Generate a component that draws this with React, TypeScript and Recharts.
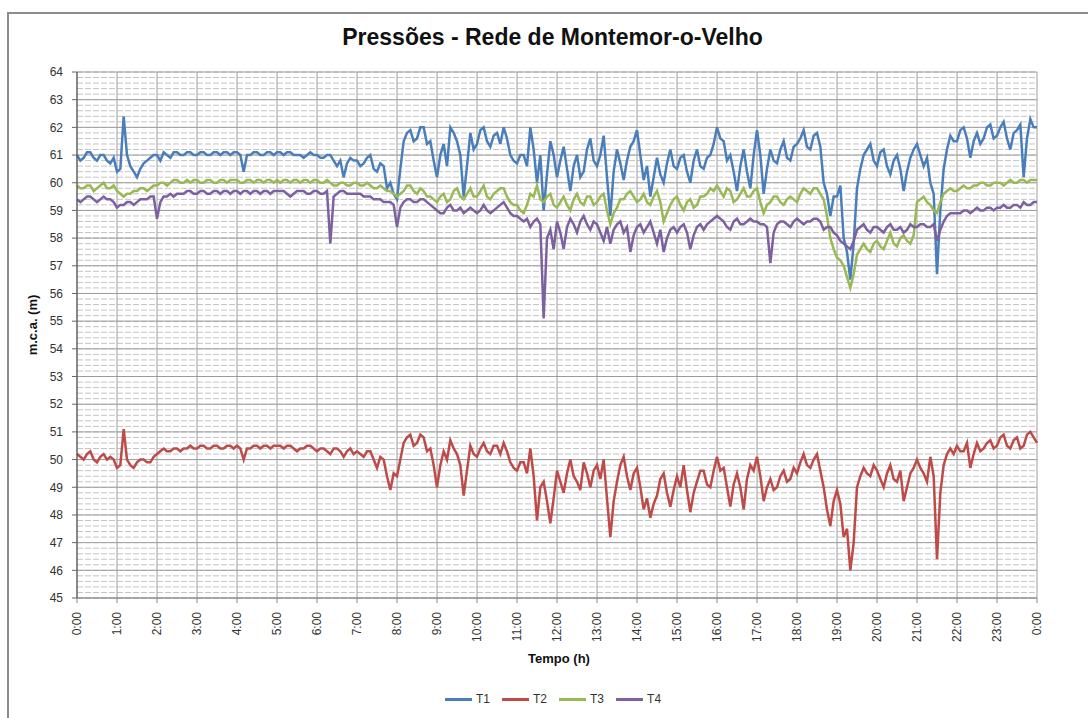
import { CartesianGrid, Line, LineChart, XAxis, YAxis } from "recharts";

const FONT = '"Liberation Sans", Arial, sans-serif';

// one reading every 5 minutes, 0:00 -> 24:00 (12 per hour)
const tickLabels = [
  "0:00", "1:00", "2:00", "3:00", "4:00", "5:00", "6:00", "7:00", "8:00", "9:00", "10:00", "11:00",
  "12:00", "13:00", "14:00", "15:00", "16:00", "17:00", "18:00", "19:00", "20:00", "21:00", "22:00", "23:00", "0:00",
];
const yTicks = [45, 46, 47, 48, 49, 50, 51, 52, 53, 54, 55, 56, 57, 58, 59, 60, 61, 62, 63, 64];

const t1 = [
  61.0, 60.8, 60.9, 61.1, 61.1, 60.9, 60.8, 61.0, 61.0, 60.8, 60.7, 60.9,
  60.4, 60.5, 62.4, 61.0, 60.6, 60.4, 60.2, 60.5, 60.7, 60.8, 60.9, 61.0,
  61.0, 60.8, 61.1, 61.0, 60.9, 61.1, 61.1, 61.0, 61.0, 61.1, 61.1, 61.0,
  61.0, 61.1, 61.1, 61.0, 61.0, 61.1, 61.1, 61.0, 61.1, 61.1, 61.0, 61.1,
  61.1, 61.0, 60.4, 61.0, 61.0, 61.1, 61.1, 61.0, 61.0, 61.1, 61.1, 61.0,
  61.1, 61.1, 61.0, 61.1, 61.1, 61.0, 61.0, 61.0, 60.9, 61.0, 61.1, 61.0,
  61.0, 60.9, 60.9, 61.0, 61.0, 60.8, 60.6, 60.8, 60.2, 60.7, 60.9, 60.8,
  60.8, 60.6, 60.7, 60.9, 61.0, 60.5, 60.4, 60.7, 60.6, 59.8, 60.0, 59.6,
  59.4, 60.5, 61.5, 61.8, 61.9, 61.5, 61.6, 62.0, 62.0, 61.4, 61.5, 60.8,
  60.2, 61.0, 61.4, 60.6, 62.0, 61.8, 61.5, 61.0, 59.5, 60.6, 61.8, 61.2,
  61.4, 61.9, 62.0, 61.5, 61.3, 61.7, 61.8, 61.4, 62.0, 61.6, 61.0, 60.8,
  60.7, 61.0, 61.0, 60.6, 62.0, 61.2, 60.0, 61.0, 59.0, 60.3, 61.5, 61.0,
  60.2, 60.8, 61.3, 60.5, 59.7, 60.6, 61.0, 60.2, 60.4, 61.2, 61.6, 60.8,
  60.6, 61.0, 61.7, 60.2, 58.8, 60.4, 61.2, 60.7, 60.1, 60.8, 61.3, 61.5,
  61.9, 61.0, 60.1, 60.6, 59.5, 60.2, 60.9, 60.3, 60.0, 60.7, 61.2, 60.6,
  60.5, 60.9, 61.0, 60.4, 60.0, 60.8, 61.2, 60.6, 60.5, 60.9, 61.0, 61.4,
  62.0, 61.6, 61.5, 60.8, 61.0, 60.4, 59.7, 60.6, 61.2, 60.4, 59.8, 61.0,
  61.9, 61.0, 59.6, 60.5, 61.2, 60.8, 60.7, 61.2, 61.5, 60.9, 60.8, 61.3,
  61.4, 61.6, 61.9, 61.3, 61.2, 61.7, 61.8, 61.3, 60.0, 59.6, 58.8, 59.5,
  59.5, 59.9, 58.0, 57.5, 56.5, 57.8, 59.8, 60.5, 61.0, 61.2, 61.4, 60.8,
  60.6, 61.1, 61.2, 60.6, 60.3, 60.8, 61.0, 60.5, 59.7, 60.4, 60.9, 61.2,
  61.4, 61.0, 60.6, 60.9, 60.0, 59.6, 56.7, 59.0, 60.5, 61.2, 61.7, 61.5,
  61.5, 61.9, 62.0, 61.6, 60.9, 61.5, 61.8, 61.4, 61.6, 62.0, 62.1, 61.6,
  61.7, 62.0, 62.2, 61.6, 61.2, 61.8, 61.9, 62.1, 60.2, 61.6, 62.3, 62.0,
  62.0,
];

const t2 = [
  50.2, 50.1, 50.0, 50.2, 50.3, 50.0, 49.9, 50.1, 50.2, 50.0, 50.1, 50.0,
  49.7, 49.8, 51.1, 50.0, 49.8, 49.7, 49.9, 50.0, 50.0, 49.9, 49.9, 50.1,
  50.2, 50.3, 50.4, 50.3, 50.3, 50.4, 50.4, 50.3, 50.4, 50.4, 50.5, 50.4,
  50.4, 50.5, 50.5, 50.4, 50.4, 50.5, 50.5, 50.4, 50.4, 50.5, 50.5, 50.4,
  50.5, 50.4, 50.0, 50.4, 50.4, 50.5, 50.5, 50.4, 50.5, 50.5, 50.4, 50.5,
  50.5, 50.5, 50.4, 50.5, 50.5, 50.4, 50.3, 50.4, 50.4, 50.5, 50.5, 50.4,
  50.3, 50.4, 50.4, 50.3, 50.2, 50.4, 50.4, 50.3, 50.1, 50.3, 50.4, 50.2,
  50.3, 50.2, 50.1, 50.3, 50.3, 50.0, 49.7, 50.1, 50.0, 49.4, 48.9, 49.5,
  49.4, 50.0, 50.6, 50.8, 50.9, 50.5, 50.6, 50.9, 50.8, 50.3, 50.4, 49.8,
  49.0, 49.8, 50.3, 50.0, 50.7, 50.4, 50.2, 49.8, 48.7, 49.6, 50.5, 50.2,
  50.1, 50.4, 50.6, 50.3, 50.2, 50.5, 50.5, 50.2, 50.6, 50.3, 49.9, 49.7,
  49.6, 49.9, 49.9, 49.5, 50.4, 49.4, 47.8, 49.0, 49.2, 48.5, 47.7, 48.6,
  49.6, 49.2, 48.8, 49.5, 50.0, 49.4, 49.2, 48.9, 49.9, 49.5, 49.0, 49.6,
  49.8, 49.3, 50.0, 48.6, 47.2, 48.5, 49.2, 49.8, 50.1, 49.4, 48.9, 49.5,
  49.7, 49.0, 48.2, 48.6, 47.9, 48.4, 48.7, 49.3, 49.5, 48.8, 48.3, 48.9,
  49.4, 49.0, 49.8, 48.9, 48.1, 48.8, 49.2, 49.6, 49.6, 49.1, 49.0, 49.6,
  50.1, 49.6, 49.7, 49.0, 48.3, 49.1, 49.5, 49.0, 48.2, 49.3, 49.8, 49.6,
  50.1, 49.4, 48.5, 49.0, 49.3, 48.9, 49.0, 49.4, 49.6, 49.2, 49.3, 49.7,
  49.5, 49.9, 50.2, 49.8, 49.7, 50.0, 50.2, 49.6, 49.0, 48.2, 47.6, 48.5,
  48.9, 48.4, 47.2, 47.5, 46.0, 47.0, 49.0, 49.4, 49.7, 49.5, 49.4, 49.8,
  49.6, 49.3, 49.0, 49.5, 49.8, 49.3, 49.2, 49.6, 48.5, 49.0, 49.5, 49.7,
  50.0, 49.7, 49.5, 49.2, 50.1, 49.4, 46.4, 48.8, 49.8, 50.2, 50.4, 50.2,
  50.5, 50.3, 50.3, 50.6, 49.7, 50.2, 50.6, 50.3, 50.4, 50.6, 50.7, 50.4,
  50.5, 50.8, 50.9, 50.5, 50.4, 50.7, 50.8, 50.4, 50.5, 50.9, 51.0, 50.8,
  50.6,
];

const t3 = [
  59.9, 59.8, 59.8, 59.9, 59.9, 59.7, 59.8, 59.9, 60.0, 59.8, 59.8, 59.9,
  59.7, 59.6, 59.5, 59.6, 59.6, 59.7, 59.7, 59.8, 59.8, 59.7, 59.8, 59.9,
  59.9, 60.0, 60.0, 59.9, 60.0, 60.1, 60.1, 60.0, 60.0, 60.1, 60.0, 60.1,
  60.1, 60.0, 60.0, 60.1, 60.1, 60.0, 60.0, 60.1, 60.1, 60.0, 60.1, 60.1,
  60.1, 60.0, 60.0, 60.1, 60.1, 60.0, 60.1, 60.1, 60.0, 60.1, 60.1, 60.0,
  60.1, 60.0, 60.1, 60.1, 60.0, 60.1, 60.1, 60.0, 60.1, 60.1, 60.0, 60.1,
  60.1, 60.0, 60.0, 60.1, 60.0, 59.9, 59.9, 60.0, 60.0, 59.9, 59.9, 60.0,
  60.0, 59.9, 59.9, 60.0, 59.9, 59.8, 59.8, 59.9, 59.8, 59.7, 59.7, 59.6,
  59.5, 59.6, 59.7, 59.9, 59.9, 59.7, 59.6, 59.8, 59.7, 59.5, 59.5, 59.4,
  59.3, 59.5, 59.6, 59.3, 59.4, 59.7, 59.8, 59.5, 59.4, 59.6, 59.8, 59.5,
  59.5, 59.7, 59.9, 59.5, 59.4, 59.6, 59.7, 59.8, 59.8, 59.5, 59.3, 59.2,
  59.2, 59.0, 58.9, 59.2, 59.6, 59.5, 59.9, 59.4, 59.3, 59.5, 59.6, 59.2,
  59.1, 59.3, 59.5, 59.2, 59.0, 59.4, 59.6, 59.3, 59.2, 59.5, 59.5, 59.2,
  59.3, 59.5, 59.6, 59.0, 58.5, 58.9, 59.1, 59.4, 59.4, 59.6, 59.7, 59.5,
  59.3, 59.4, 59.6, 59.3, 59.2, 59.5, 59.7, 59.3, 58.6, 58.9, 59.2, 59.4,
  59.5, 59.2, 59.0, 59.3, 59.4, 59.1, 59.2, 59.5, 59.5, 59.6, 59.8, 59.7,
  59.9, 59.7, 59.5, 59.8, 59.7, 59.3, 59.4, 59.6, 59.8, 59.5, 59.5, 59.7,
  59.8, 59.3, 58.9, 59.2, 59.3, 59.5, 59.5, 59.3, 59.2, 59.4, 59.5, 59.4,
  59.3, 59.6, 59.8, 59.7, 59.6, 59.8, 59.8, 59.6, 59.4, 58.8, 58.0, 57.6,
  57.3, 57.2, 57.0, 56.6, 56.2, 56.7, 57.4, 57.6, 57.8, 57.6, 57.5, 57.8,
  57.9, 57.7, 57.6, 57.9, 58.2, 57.8, 57.7, 58.0, 58.1, 57.9, 57.8, 58.1,
  59.3, 59.4, 59.5, 59.3, 59.2, 59.0, 58.9, 59.3, 59.6, 59.7, 59.8, 59.7,
  59.7, 59.8, 59.9, 59.8, 59.8, 59.9, 59.9, 60.0, 60.0, 59.9, 59.9, 60.0,
  60.0, 60.0, 59.9, 60.0, 60.1, 60.0, 60.0, 60.1, 60.1, 60.0, 60.1, 60.1,
  60.1,
];

const t4 = [
  59.4, 59.3, 59.4, 59.5, 59.5, 59.4, 59.3, 59.4, 59.5, 59.4, 59.4, 59.3,
  59.1, 59.2, 59.2, 59.3, 59.3, 59.2, 59.3, 59.4, 59.4, 59.4, 59.5, 59.5,
  58.7, 59.3, 59.5, 59.5, 59.6, 59.5, 59.6, 59.6, 59.6, 59.7, 59.7, 59.6,
  59.6, 59.7, 59.7, 59.6, 59.6, 59.7, 59.7, 59.6, 59.7, 59.7, 59.6, 59.7,
  59.7, 59.6, 59.7, 59.7, 59.6, 59.7, 59.7, 59.6, 59.7, 59.7, 59.6, 59.7,
  59.7, 59.7, 59.7, 59.6, 59.5, 59.6, 59.7, 59.7, 59.7, 59.6, 59.6, 59.7,
  59.7, 59.6, 59.6, 59.7, 57.8, 59.5, 59.6, 59.7, 59.7, 59.6, 59.6, 59.6,
  59.6, 59.6, 59.5, 59.5, 59.5, 59.4, 59.4, 59.4, 59.3, 59.3, 59.3, 59.2,
  58.4, 59.1, 59.3, 59.4, 59.4, 59.3, 59.3, 59.4, 59.4, 59.3, 59.2, 59.1,
  59.0, 58.9, 58.9, 59.1, 59.2, 59.0, 59.0, 59.1, 58.9, 59.0, 59.1, 59.0,
  58.9, 59.0, 59.2, 59.0, 58.9, 59.0, 59.1, 59.2, 59.3, 59.1, 58.9, 58.8,
  58.8, 58.7, 58.6, 58.7, 58.4, 58.6, 58.7, 58.5, 55.1, 58.0, 58.3, 57.6,
  58.6, 58.2, 57.6, 58.4, 58.7, 58.5, 58.2, 58.6, 58.8, 58.5, 58.3, 58.6,
  58.5, 58.2, 57.9, 58.4, 57.8, 58.3, 58.5, 58.6, 58.2, 58.4, 57.5, 58.1,
  58.4, 58.5, 58.2, 58.4, 58.6, 58.2, 57.8, 58.3, 57.5, 58.0, 58.3, 58.4,
  58.2, 58.4, 58.5, 58.2, 57.6, 58.1, 58.4, 58.5, 58.3, 58.5, 58.6, 58.7,
  58.8, 58.7, 58.6, 58.4, 58.3, 58.6, 58.7, 58.5, 58.5, 58.6, 58.7, 58.6,
  58.6, 58.5, 58.5, 58.4, 57.1, 58.2, 58.5, 58.6, 58.6, 58.5, 58.4, 58.6,
  58.7, 58.6, 58.5, 58.6, 58.6, 58.7, 58.7, 58.6, 58.3, 58.4, 58.4, 58.2,
  58.1, 57.9, 57.8, 57.7, 57.6, 57.9, 58.3, 58.4, 58.5, 58.3, 58.2, 58.4,
  58.4, 58.3, 58.2, 58.4, 58.5, 58.3, 58.3, 58.4, 58.2, 58.3, 58.5, 58.4,
  58.4, 58.5, 58.5, 58.4, 58.4, 58.5, 57.9, 58.3, 58.6, 58.8, 58.9, 58.9,
  58.9, 58.9, 59.0, 59.0, 58.9, 59.0, 59.1, 59.0, 59.0, 59.1, 59.1, 59.0,
  59.1, 59.1, 59.2, 59.1, 59.1, 59.2, 59.2, 59.1, 59.3, 59.2, 59.2, 59.3,
  59.3,
];

const series = [
  { key: "T1", color: "#4a7ebb" },
  { key: "T2", color: "#be4b48" },
  { key: "T3", color: "#98b954" },
  { key: "T4", color: "#7d60a0" },
];

const rows = t1.map((v, i) => ({ i, T1: v, T2: t2[i], T3: t3[i], T4: t4[i] }));
const lastIndex = t1.length - 1;
const xTicks = tickLabels.map((_, k) => k * 12);
const minorTicks = Array.from({ length: 96 }, (_, k) => Number((45 + k * 0.2).toFixed(1)));

// minor horizontal lines every 0.2 m, placed with the y axis scale
const minorGridY = ({ yAxis, offset }: any) =>
  minorTicks.map((v) =>
    yAxis && typeof yAxis.scale === "function"
      ? yAxis.scale(v)
      : offset.top + ((64 - v) / 19) * offset.height
  );

function XTick({ x, y, payload }: any) {
  return (
    <text
      x={x}
      y={y}
      transform={`rotate(-90 ${x} ${y})`}
      textAnchor="end"
      dy="0.35em"
      fontSize={12}
      fill="#333"
      fontFamily={FONT}
    >
      {tickLabels[Math.round(payload.value / 12)]}
    </text>
  );
}

export default function App() {
  return (
    <div style={{ position: "absolute", left: 0, top: 0, width: 1088, height: 718, overflow: "hidden", background: "#fff", fontFamily: FONT }}>
      <div style={{ position: "absolute", left: 7, top: 12, width: 1100, height: 730, border: "2px solid #8c8c8c" }} />
      <div style={{ position: "absolute", left: 0, top: 25, width: 1105, textAlign: "center", fontSize: 23, lineHeight: "24px", fontWeight: "bold", color: "#111" }}>
        Pressões - Rede de Montemor-o-Velho
      </div>

      <LineChart
        width={1088}
        height={718}
        data={rows}
        margin={{ top: 72, right: 51, bottom: 60, left: 32 }}
        style={{ position: "absolute", left: 0, top: 0 }}
      >
        <CartesianGrid
          vertical={false}
          horizontalCoordinatesGenerator={minorGridY}
          stroke="#c4c4c4"
          strokeDasharray="6 2"
        />
        <CartesianGrid stroke="#9d9d9d" fill="none" />
        <XAxis
          type="number"
          dataKey="i"
          domain={[0, lastIndex]}
          ticks={xTicks}
          interval={0}
          height={60}
          tickSize={5}
          tickMargin={9}
          tick={<XTick />}
          axisLine={{ stroke: "#888" }}
          tickLine={{ stroke: "#888" }}
        />
        <XAxis
          xAxisId="top"
          orientation="top"
          type="number"
          dataKey="i"
          domain={[0, lastIndex]}
          height={0}
          tick={false}
          tickLine={false}
          axisLine={{ stroke: "#444" }}
        />
        <YAxis
          type="number"
          domain={[45, 64]}
          ticks={yTicks}
          interval={0}
          width={45}
          tickSize={5}
          tickMargin={9}
          tick={{ fontSize: 12, fill: "#333", fontFamily: FONT }}
          axisLine={{ stroke: "#444" }}
          tickLine={{ stroke: "#666" }}
          allowDataOverflow
        />
        <YAxis
          yAxisId="right"
          orientation="right"
          type="number"
          domain={[45, 64]}
          width={0}
          tick={false}
          tickLine={false}
          axisLine={{ stroke: "#333" }}
        />
        {series.map((s) => (
          <Line
            key={s.key}
            type="linear"
            dataKey={s.key}
            stroke={s.color}
            strokeWidth={2.5}
            dot={false}
            isAnimationActive={false}
          />
        ))}
      </LineChart>

      <div style={{ position: "absolute", left: 0, top: 651, width: 1118, textAlign: "center", fontSize: 13, fontWeight: "bold", color: "#111" }}>
        Tempo (h)
      </div>
      <div
        style={{
          position: "absolute",
          left: 32,
          top: 325,
          transform: "translate(-50%, -50%) rotate(-90deg)",
          fontSize: 13,
          fontWeight: "bold",
          color: "#111",
          whiteSpace: "nowrap",
        }}
      >
        m.c.a. (m)
      </div>
      <div style={{ position: "absolute", left: 445, top: 692, display: "flex", alignItems: "center", fontSize: 12, color: "#333" }}>
        {series.map((s) => (
          <div key={s.key} style={{ display: "flex", alignItems: "center", marginRight: 12 }}>
            <span style={{ display: "inline-block", width: 27, height: 3, background: s.color, marginRight: 4 }} />
            <span>{s.key}</span>
          </div>
        ))}
      </div>
    </div>
  );
}
